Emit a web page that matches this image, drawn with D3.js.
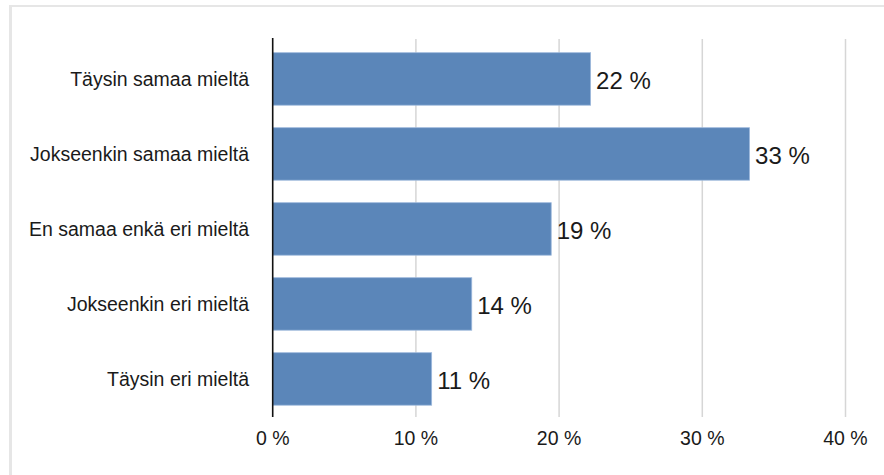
<!DOCTYPE html>
<html>
<head>
<meta charset="utf-8">
<script src="https://cdn.jsdelivr.net/npm/d3@7"></script>
<style>
  html, body { margin: 0; padding: 0; background: #fff; }
  svg { display: block; }
  text { font-family: "Liberation Sans", Arial, Helvetica, sans-serif; fill: #1a1a1a; }
</style>
</head>
<body>
<script>
const categories = ["Täysin samaa mieltä", "Jokseenkin samaa mieltä", "En samaa enkä eri mieltä", "Jokseenkin eri mieltä", "Täysin eri mieltä"];
const values = [22.2, 33.3, 19.45, 13.9, 11.1];
const valueLabels = ["22 %", "33 %", "19 %", "14 %", "11 %"];
const ticks = [0, 10, 20, 30, 40];
const tickLabels = ["0 %", "10 %", "20 %", "30 %", "40 %"];

const W = 884, H = 475;
const svg = d3.select("body").append("svg").attr("width", W).attr("height", H);

// frame (top and left light-gray edges)
svg.append("rect").attr("x", 9).attr("y", 5).attr("width", W - 9).attr("height", 2).attr("fill", "#e6e6e6");
svg.append("rect").attr("x", 9).attr("y", 5).attr("width", 3).attr("height", H - 5).attr("fill", "#e6e6e6");

const x = d3.scaleLinear().domain([0, 40]).range([272.7, 845.5]);
const y = d3.scaleBand().domain(categories).range([37.7, 420.2]).paddingInner(0.3).paddingOuter(0.2);

const gTop = 39, gBot = 417;

// gridlines
svg.append("g").selectAll("line").data(ticks.filter(t => t > 0)).join("line")
  .attr("x1", d => x(d)).attr("x2", d => x(d))
  .attr("y1", gTop).attr("y2", gBot)
  .attr("stroke", "#d6d6d6").attr("stroke-width", 1.5);

// bars
svg.append("g").selectAll("rect").data(categories).join("rect")
  .attr("x", x(0))
  .attr("y", d => y(d))
  .attr("width", (d, i) => x(values[i]) - x(0))
  .attr("height", y.bandwidth())
  .attr("fill", "#5b86b9")
  .attr("stroke", "#9db9dc").attr("stroke-width", 0.8);

// value labels
svg.append("g").selectAll("text").data(categories).join("text")
  .attr("x", (d, i) => x(values[i]) + 5.5)
  .attr("y", d => y(d) + y.bandwidth() / 2 + 1.5)
  .attr("dominant-baseline", "central")
  .attr("font-size", 24)
  .text((d, i) => valueLabels[i]);

// y-axis line
svg.append("line").attr("x1", x(0)).attr("x2", x(0)).attr("y1", 38).attr("y2", gBot)
  .attr("stroke", "#111").attr("stroke-width", 1.6);

// category labels
svg.append("g").selectAll("text").data(categories).join("text")
  .attr("x", 249)
  .attr("y", d => y(d) + y.bandwidth() / 2)
  .attr("dominant-baseline", "central")
  .attr("text-anchor", "end")
  .attr("font-size", 19.5)
  .text(d => d);

// x tick labels
svg.append("g").selectAll("text").data(ticks).join("text")
  .attr("x", d => x(d))
  .attr("y", 445)
  .attr("text-anchor", "middle")
  .attr("font-size", 19.5)
  .text((d, i) => tickLabels[i]);
</script>
</body>
</html>
